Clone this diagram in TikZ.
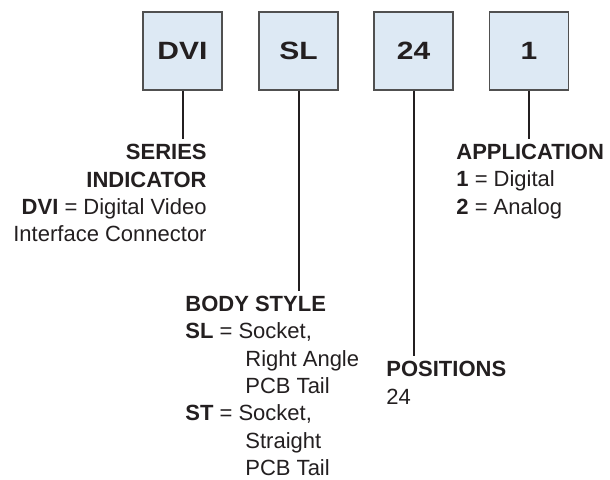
\documentclass[tikz,border=0pt]{standalone}
\usepackage{fontspec}
\setmainfont{Liberation Sans}
\newfontfamily\boxfont[FakeStretch=1.2]{Liberation Sans}
\definecolor{inkgray}{RGB}{35,31,32}
\definecolor{boxblue}{RGB}{221,233,244}
\definecolor{edgegray}{RGB}{80,80,80}
\newcommand{\subind}{\hspace*{30pt}}
\begin{document}
\begin{tikzpicture}[
       x=0.5pt,y=-0.5pt,
       partbox/.style={
         draw=edgegray,
         line width=0.6pt,
         fill=boxblue,
         text=inkgray,
         minimum width=39.5pt,
         minimum height=39pt,
         font={\boxfont\fontsize{12.5}{14}\selectfont\bfseries}
       },
       legend/.style={
         text=inkgray,
         inner xsep=0pt,
         inner ysep=2.5pt,
         font={\fontsize{11}{13.7}\selectfont}
       },
       stem/.style={
         draw=inkgray,
         line width=1pt
       }
     ]

       \useasboundingbox (0,0) rectangle (610,479);

       \node (dvi) at (182.5,51) [partbox]{DVI};
       \node (sl)  at (298.5,51) [partbox]{SL};
       \node (pos) at (413.5,51) [partbox]{24};
       \node (app) at (529,51)   [partbox]{1};

       \node (series) at (207,139) [legend,anchor=north east,align=right]{%
         \textbf{SERIES}\\
         \textbf{INDICATOR}\\
         \textbf{DVI} = Digital Video\\
         Interface Connector};
       \node (body) at (185,290.5) [legend,anchor=north west,align=left]{%
         \textbf{BODY STYLE}\\
         \textbf{SL} = Socket,\\
         \subind Right Angle\\
         \subind PCB Tail\\
         \textbf{ST} = Socket,\\
         \subind Straight\\
         \subind PCB Tail};
       \node (count) at (386,356) [legend,anchor=north west,align=left]{%
         \textbf{POSITIONS}\\
         24};
       \node (usage) at (456,138.5) [legend,anchor=north west,align=left]{%
         \textbf{APPLICATION}\\
         \textbf{1} = Digital\\
         \textbf{2} = Analog};

       \draw[stem] (dvi.south) -- (dvi.south |- series.north);
       \draw[stem] (sl.south) -- (sl.south |- body.north);
       \draw[stem] (pos.south) -- (pos.south |- count.north);
       \draw[stem] (app.south) -- (app.south |- usage.north);

\end{tikzpicture}
\end{document}
